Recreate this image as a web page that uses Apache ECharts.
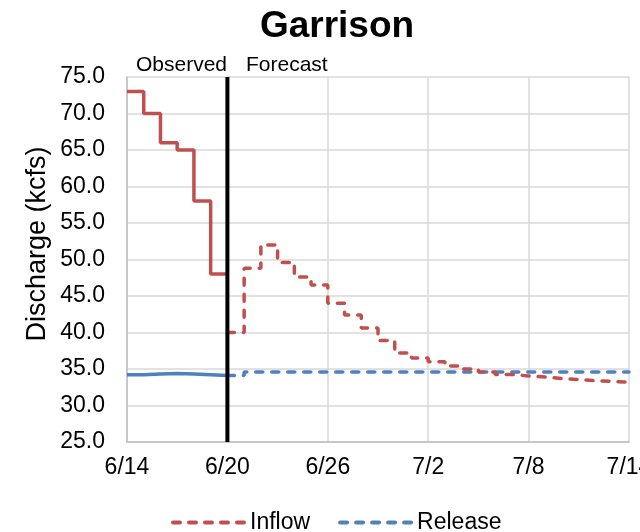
<!DOCTYPE html>
<html>
<head>
<meta charset="utf-8">
<script src="https://cdn.jsdelivr.net/npm/echarts@6/dist/echarts.min.js"></script>
<style>
html,body{margin:0;padding:0;background:#fff;}
#chart{width:640px;height:532px;}
</style>
</head>
<body>
<div id="chart"></div>
<script>
// x positions are day offsets from 6/14
const tickLabels = ['6/14', '6/20', '6/26', '7/2', '7/8', '7/14'];
const obsDays = [0, 1, 2, 3, 4, 5, 6];
const obsInflow = [73, 70, 66, 65, 58, 48, 48];
const obsRelease = [34.2, 34.2, 34.3, 34.4, 34.3, 34.2, 34.1];
const fcDays = [6, 7, 8, 9, 10, 11, 12, 13, 14, 15, 16, 17, 18, 19, 20, 21, 22, 23, 24, 25, 26, 27, 28, 29, 30];
const fcInflow = [40, 48.8, 52, 49.6, 47.6, 46.5, 44.0, 42.4, 40.6, 38.9, 37.2, 36.5, 36.0, 35.4, 35.0, 34.6, 34.25, 34.05, 33.9, 33.7, 33.55, 33.4, 33.3, 33.2, 33.2];
const fcRelease = [34.1, 34.6, 34.6, 34.6, 34.6, 34.6, 34.6, 34.6, 34.6, 34.6, 34.6, 34.6, 34.6, 34.6, 34.6, 34.6, 34.6, 34.6, 34.6, 34.6, 34.6, 34.6, 34.6, 34.6, 34.6];
const splitDay = 6;
const yMin = 25, yMax = 75;

const zip = (xs, ys) => xs.map((x, i) => [x, ys[i]]);
const RED = '#C0504D', BLUE = '#4F81BD';
const FONT = 'Liberation Sans, Arial, sans-serif';
const DASH = {width: 3.5, type: [7, 9], cap: 'round'};

const chart = echarts.init(document.getElementById('chart'), null, {renderer: 'canvas'});
chart.setOption({
  animation: false,
  backgroundColor: '#ffffff',
  title: {
    text: 'Garrison', left: 332, top: 3, textAlign: 'center',
    textStyle: {fontFamily: FONT, fontSize: 37, fontWeight: 'bold', color: '#000'}
  },
  legend: {
    left: 166, top: 506, itemWidth: 72, itemHeight: 4, itemGap: 28,
    data: ['Inflow', 'Release'],
    lineStyle: {width: 4, type: [7, 9], cap: 'round'},
    textStyle: {fontFamily: FONT, fontSize: 23, color: '#000'}
  },
  grid: {left: 127, right: 11, top: 77, bottom: 90, containLabel: false, outerBoundsMode: 'none'},
  xAxis: {
    type: 'value', min: 0, max: 30, interval: 6,
    axisLine: {show: true, lineStyle: {color: '#bfbfbf', width: 1.5}},
    axisTick: {show: false},
    splitLine: {show: true, lineStyle: {color: '#d9d9d9', width: 1.5}},
    axisLabel: {
      margin: 14, fontFamily: FONT, fontSize: 23, color: '#000',
      formatter: v => tickLabels[Math.round(v / 6)] || ''
    }
  },
  yAxis: {
    type: 'value', min: yMin, max: yMax, interval: 5,
    axisLine: {show: true, lineStyle: {color: '#bfbfbf', width: 1.5}},
    axisTick: {show: false},
    splitLine: {show: true, lineStyle: {color: '#d9d9d9', width: 1.5}},
    axisLabel: {
      margin: 22, fontFamily: FONT, fontSize: 23, color: '#000',
      formatter: v => v.toFixed(1)
    }
  },
  graphic: [
    {type: 'text', x: 38, y: 244, rotation: Math.PI / 2,
      style: {text: 'Discharge (kcfs)', font: '27px ' + FONT, fill: '#000', align: 'center', verticalAlign: 'middle'}},
    {type: 'text', right: 640 - 227, top: 55,
      style: {text: 'Observed', font: '21px ' + FONT, fill: '#000', textAlign: 'right'}},
    {type: 'text', left: 246, top: 55,
      style: {text: 'Forecast', font: '21px ' + FONT, fill: '#000'}}
  ],
  series: [
    {name: 'Release Observed', type: 'line', data: zip(obsDays, obsRelease), symbol: 'none',
      lineStyle: {color: BLUE, width: 3.5}, itemStyle: {color: BLUE}, z: 3},
    {name: 'Release', type: 'line', step: 'end', data: zip(fcDays, fcRelease), symbol: 'none',
      lineStyle: Object.assign({color: BLUE}, DASH), itemStyle: {color: BLUE}, z: 3},
    {name: 'Inflow Observed', type: 'line', step: 'end', data: zip(obsDays, obsInflow), symbol: 'none',
      lineStyle: {color: RED, width: 3.5}, itemStyle: {color: RED}, z: 4},
    {name: 'Inflow', type: 'line', step: 'end', data: zip(fcDays, fcInflow), symbol: 'none',
      lineStyle: Object.assign({color: RED}, DASH), itemStyle: {color: RED}, z: 4},
    {name: 'Split', type: 'line', data: [[splitDay, yMin], [splitDay, yMax]], symbol: 'none',
      lineStyle: {color: '#000', width: 4}, z: 5, silent: true}
  ]
});
</script>
</body>
</html>
